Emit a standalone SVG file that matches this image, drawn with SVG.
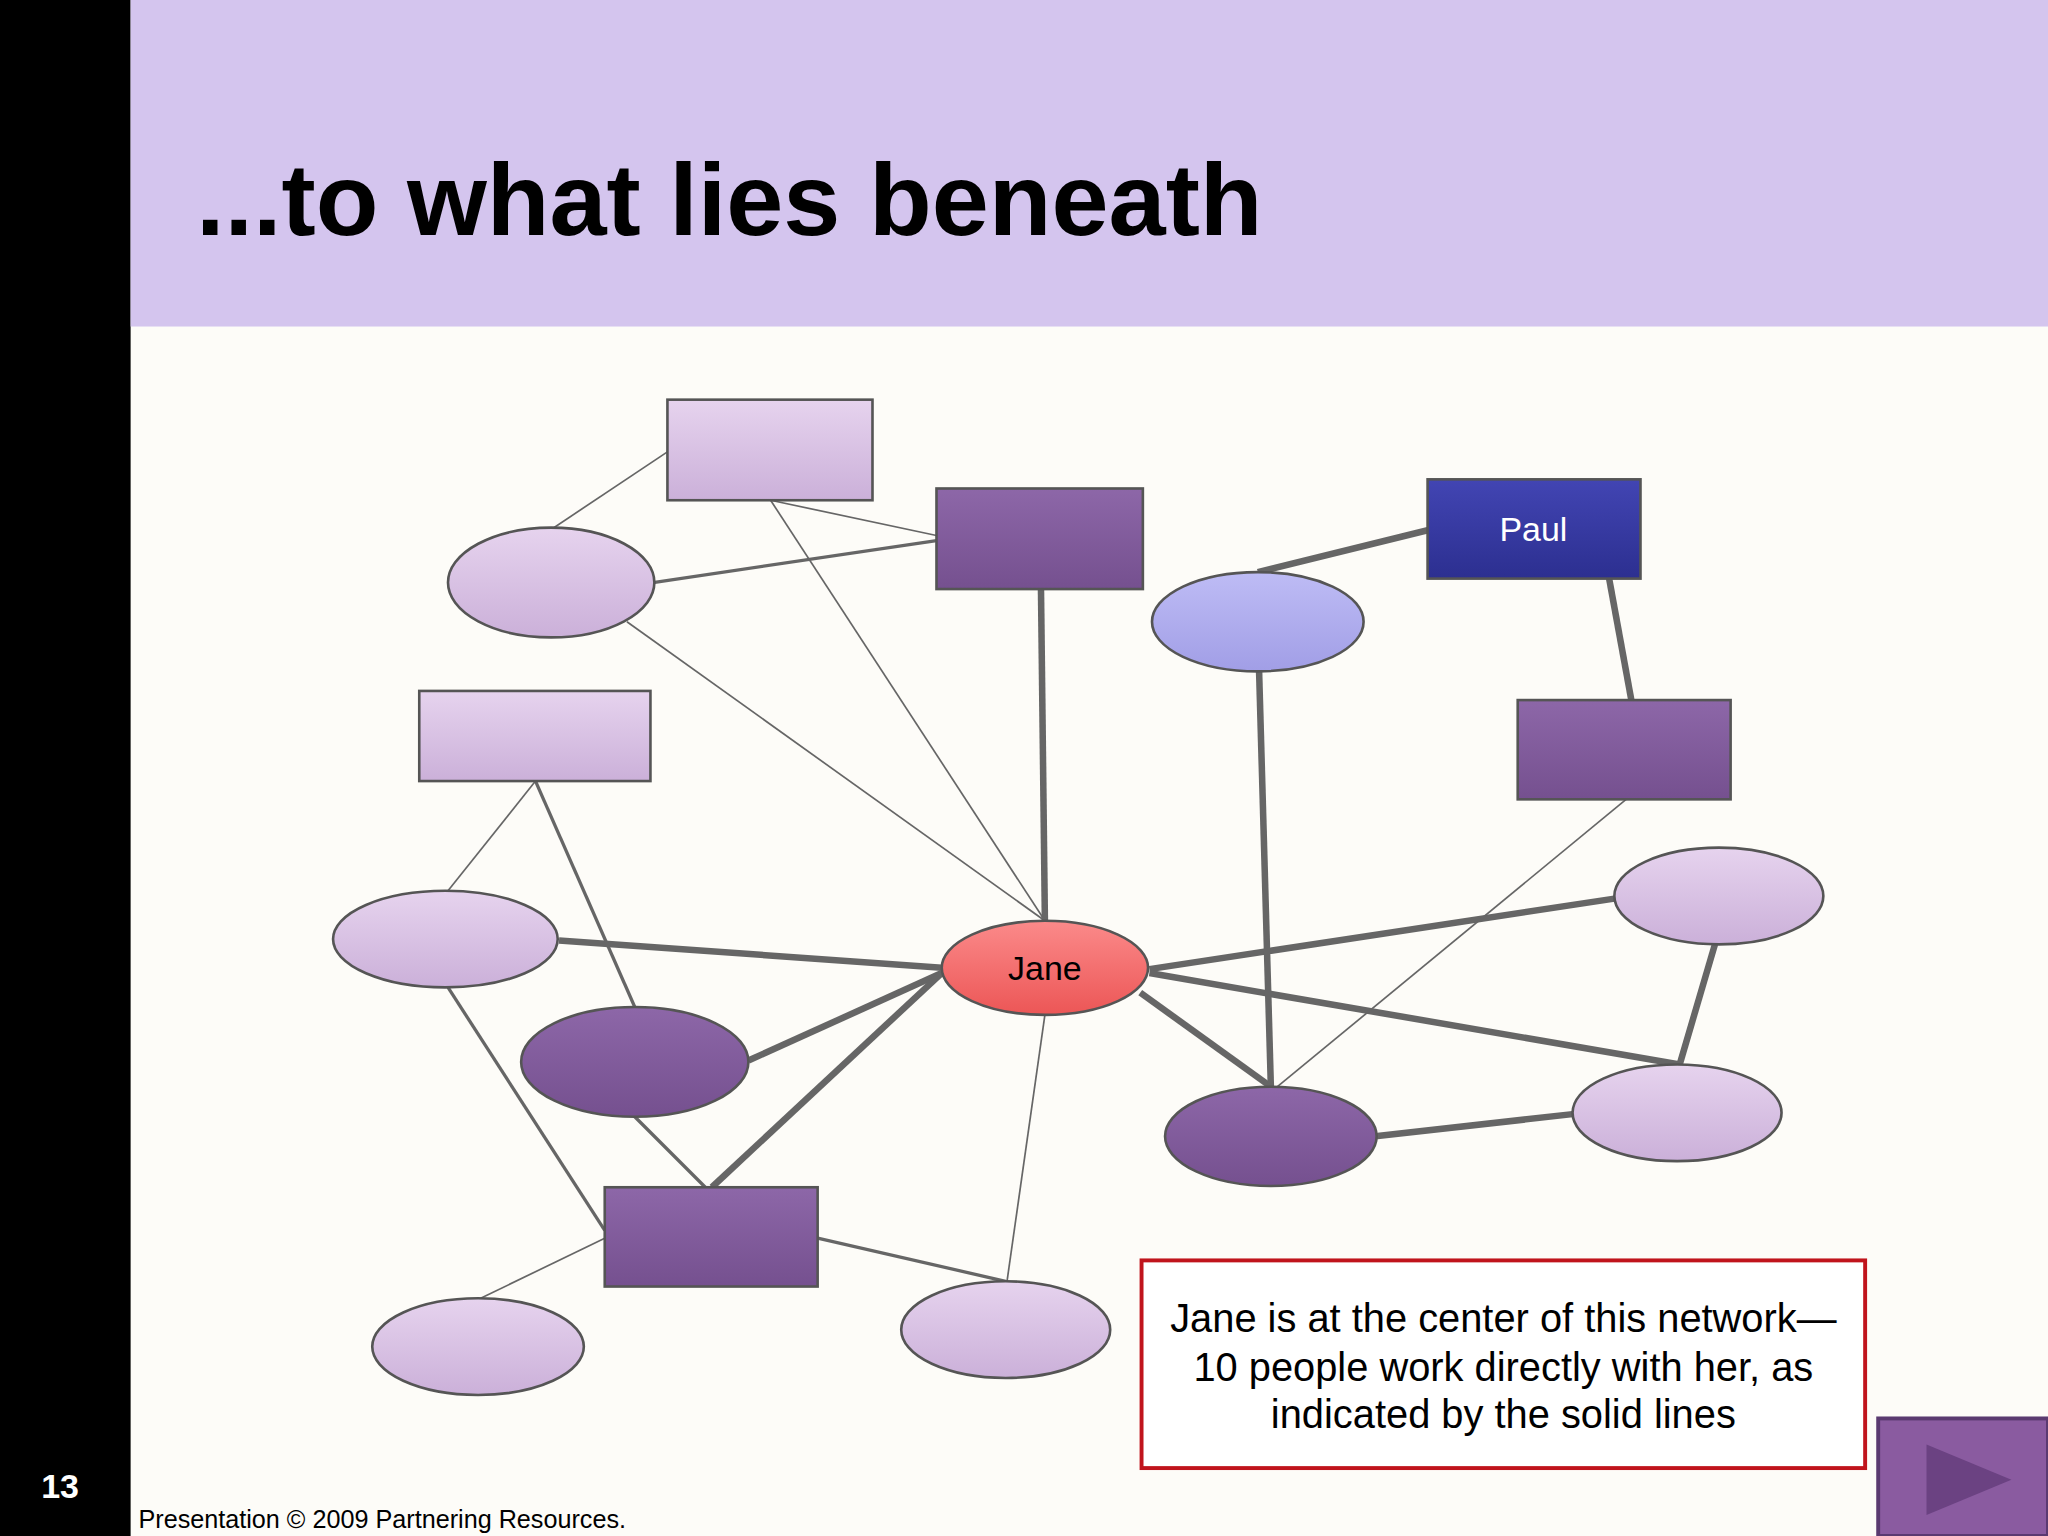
<svg xmlns="http://www.w3.org/2000/svg" width="2048" height="1536" viewBox="0 0 2048 1536">
<style>
.thick{stroke:#666;stroke-width:5;fill:none}
.med{stroke:#666;stroke-width:2.5;fill:none}
.thin{stroke:#666;stroke-width:1.3;fill:none}
.n{stroke:#555;stroke-width:2}
.lbl{font-family:"Liberation Sans",Arial,sans-serif;font-size:26px;text-anchor:middle}
</style>
<defs>
<linearGradient id="lt" x1="0" y1="0" x2="0" y2="1"><stop offset="0" stop-color="#e6d3ee"/><stop offset="1" stop-color="#cbb0d9"/></linearGradient>
<linearGradient id="dk" x1="0" y1="0" x2="0" y2="1"><stop offset="0" stop-color="#8d67a8"/><stop offset="1" stop-color="#75508f"/></linearGradient>
<linearGradient id="bl" x1="0" y1="0" x2="0" y2="1"><stop offset="0" stop-color="#4245b3"/><stop offset="1" stop-color="#2c2f90"/></linearGradient>
<linearGradient id="lb" x1="0" y1="0" x2="0" y2="1"><stop offset="0" stop-color="#bebcf5"/><stop offset="1" stop-color="#a19ee6"/></linearGradient>
<linearGradient id="rd" x1="0" y1="0" x2="0" y2="1"><stop offset="0" stop-color="#fb8a8a"/><stop offset="1" stop-color="#ec5656"/></linearGradient>
</defs>
<g transform="scale(1.30612)">
<rect x="0" y="0" width="1568" height="1176" fill="#fdfcf8"/>
<rect x="0" y="0" width="100" height="1176" fill="#000"/>
<rect x="100" y="0" width="1468" height="250" fill="#d4c5ee"/>
<text x="150" y="180" font-family="Liberation Sans,Arial,sans-serif" font-size="78.6" font-weight="bold" fill="#000">...to what lies beneath</text>
<g id="connectors">
<line class="thick" x1="797" y1="451" x2="800" y2="705"/>
<line class="thick" x1="428" y1="720" x2="721" y2="741"/>
<line class="thick" x1="573" y1="812" x2="721" y2="745"/>
<line class="thick" x1="545" y1="909" x2="721" y2="745"/>
<line class="thick" x1="973" y1="832" x2="873" y2="760"/>
<line class="thick" x1="1236" y1="688" x2="880" y2="742"/>
<line class="thick" x1="1286" y1="815" x2="880" y2="745"/>
<line class="thin" x1="480" y1="476" x2="800" y2="705"/>
<line class="thin" x1="590" y1="383" x2="800" y2="705"/>
<line class="thin" x1="771" y1="981" x2="800" y2="777"/>
<line class="thin" x1="511" y1="346" x2="424" y2="404"/>
<line class="thin" x1="590" y1="383" x2="717" y2="410"/>
<line class="med" x1="500" y1="446" x2="717" y2="414"/>
<line class="thick" x1="963" y1="438" x2="1093" y2="406"/>
<line class="thick" x1="1232" y1="443" x2="1249" y2="536"/>
<line class="thick" x1="964" y1="514" x2="973" y2="832"/>
<line class="thin" x1="1245" y1="612" x2="978" y2="832"/>
<line class="thick" x1="1313" y1="723" x2="1286" y2="815"/>
<line class="thick" x1="1053" y1="870" x2="1204" y2="853"/>
<line class="thin" x1="410" y1="598" x2="343" y2="682"/>
<line class="med" x1="410" y1="598" x2="486" y2="771"/>
<line class="med" x1="343" y1="756" x2="463" y2="942"/>
<line class="med" x1="486" y1="855" x2="540" y2="909"/>
<line class="thin" x1="463" y1="948" x2="368" y2="994"/>
<line class="med" x1="626" y1="948" x2="770" y2="981"/>
</g>
<g id="r1"><rect class="n" x="511" y="306" width="157" height="77" fill="url(#lt)"/></g>
<g id="r2"><rect class="n" x="717" y="374" width="158" height="77" fill="url(#dk)"/></g>
<g id="e1"><ellipse class="n" cx="422" cy="446" rx="79" ry="42" fill="url(#lt)"/></g>
<g id="paul"><rect class="n" x="1093" y="367" width="163" height="76" fill="url(#bl)"/><text class="lbl" x="1174" y="414" fill="#fff">Paul</text></g>
<g id="eblue"><ellipse class="n" cx="963" cy="476" rx="81" ry="38" fill="url(#lb)"/></g>
<g id="r3"><rect class="n" x="321" y="529" width="177" height="69" fill="url(#lt)"/></g>
<g id="r4"><rect class="n" x="1162" y="536" width="163" height="76" fill="url(#dk)"/></g>
<g id="eright"><ellipse class="n" cx="1316" cy="686" rx="80" ry="37" fill="url(#lt)"/></g>
<g id="eleft"><ellipse class="n" cx="341" cy="719" rx="86" ry="37" fill="url(#lt)"/></g>
<g id="jane"><ellipse class="n" cx="800" cy="741" rx="79" ry="36" fill="url(#rd)"/><text class="lbl" x="800" y="750" fill="#000">Jane</text></g>
<g id="edarkleft"><ellipse class="n" cx="486" cy="813" rx="87" ry="42" fill="url(#dk)"/></g>
<g id="edarkright"><ellipse class="n" cx="973" cy="870" rx="81" ry="38" fill="url(#dk)"/></g>
<g id="eright2"><ellipse class="n" cx="1284" cy="852" rx="80" ry="37" fill="url(#lt)"/></g>
<g id="r5"><rect class="n" x="463" y="909" width="163" height="76" fill="url(#dk)"/></g>
<g id="ebl"><ellipse class="n" cx="366" cy="1031" rx="81" ry="37" fill="url(#lt)"/></g>
<g id="ebm"><ellipse class="n" cx="770" cy="1018" rx="80" ry="37" fill="url(#lt)"/></g>
<g id="note">
<rect x="874" y="965" width="554" height="159" fill="#fff" stroke="#c0141c" stroke-width="3"/>
<g font-family="Liberation Sans,Arial,sans-serif" font-size="30.5" text-anchor="middle" fill="#000">
<text x="1151" y="1020">Jane is at the center of this network—</text>
<text x="1151" y="1057">10 people work directly with her, as</text>
<text x="1151" y="1093">indicated by the solid lines</text>
</g>
</g>
<text x="46" y="1147" font-family="Liberation Sans,Arial,sans-serif" font-size="26" font-weight="bold" fill="#fff" text-anchor="middle">13</text>
<text x="106" y="1170" font-family="Liberation Sans,Arial,sans-serif" font-size="19.3" fill="#000">Presentation © 2009 Partnering Resources.</text>
<g id="play">
<rect x="1438" y="1086" width="130" height="90" fill="#8a5ba0" stroke="#5a3a70" stroke-width="3"/>
<polygon points="1475,1106 1475,1160 1540,1133" fill="#6b4282"/>
</g>
</g>
</svg>
